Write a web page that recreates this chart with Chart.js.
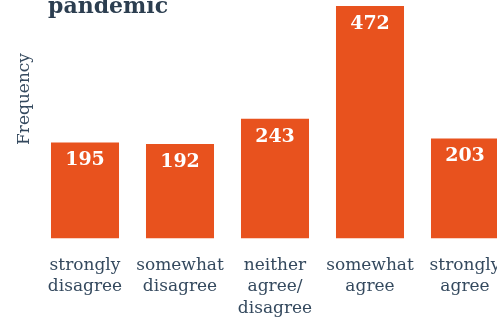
<!DOCTYPE html>
<html>
<head>
<meta charset="utf-8">
<script src="https://cdn.jsdelivr.net/npm/chart.js@4"></script>
<style>
  html, body { margin: 0; padding: 0; overflow: hidden; background: #fff; }
  #wrap { width: 520px; height: 320px; }
</style>
</head>
<body>
<div id="wrap"><canvas id="likertChart" width="520" height="320"></canvas></div>
<script>
// answers on the agree/disagree scale, one entry per bar
const categories = [
    ['strongly', 'disagree'],
    ['somewhat', 'disagree'],
    ['neither', 'agree/', 'disagree'],
    ['somewhat', 'agree'],
    ['strongly', 'agree']
];
const counts = [195, 192, 243, 472, 203];
const titleText = 'pandemic';
const yTitle = 'Frequency';

const barColor = '#e8521e';
const inkColor = '#34495e';
const titleColor = '#2c3e50';
const fontFamily = '"DejaVu Serif", serif';

// value labels inside the bars, plus the cut-off title and the y title
const overlayText = {
    id: 'overlayText',
    afterDatasetsDraw(chart) {
        const ctx = chart.ctx;
        const meta = chart.getDatasetMeta(0);
        ctx.save();

        ctx.fillStyle = '#ffffff';
        ctx.font = 'bold 19px ' + fontFamily;
        ctx.textAlign = 'center';
        ctx.textBaseline = 'alphabetic';
        meta.data.forEach((bar, i) => {
            ctx.fillText(String(counts[i]), bar.x, bar.y + 23);
        });

        ctx.fillStyle = titleColor;
        ctx.font = 'bold 22px ' + fontFamily;
        ctx.textAlign = 'left';
        ctx.fillText(titleText, 48, 13);

        ctx.translate(28.5, 99);
        ctx.rotate(-Math.PI / 2);
        ctx.textAlign = 'center';
        ctx.fillStyle = inkColor;
        ctx.font = '17px ' + fontFamily;
        ctx.fillText(yTitle, 0, 0);

        ctx.restore();
    }
};

const ctx = document.getElementById('likertChart').getContext('2d');
new Chart(ctx, {
    type: 'bar',
    data: {
        labels: categories,
        datasets: [{
            data: counts,
            backgroundColor: barColor,
            borderWidth: 0,
            barPercentage: 0.716,
            categoryPercentage: 1
        }]
    },
    options: {
        responsive: false,
        animation: false,
        layout: {
            // negative bottom lets the third label line sit at the canvas edge
            padding: { left: 37.5, right: 7.5, top: 6, bottom: -15 }
        },
        plugins: {
            legend: { display: false },
            tooltip: { enabled: false }
        },
        scales: {
            x: {
                grid: { display: false, drawTicks: false },
                border: { display: false },
                ticks: {
                    color: inkColor,
                    autoSkip: false,
                    maxRotation: 0,
                    padding: 16,
                    font: { family: fontFamily, size: 17, lineHeight: 1.265 }
                }
            },
            y: {
                display: false,
                min: 0,
                max: 472
            }
        }
    },
    plugins: [overlayText]
});
</script>
</body>
</html>
